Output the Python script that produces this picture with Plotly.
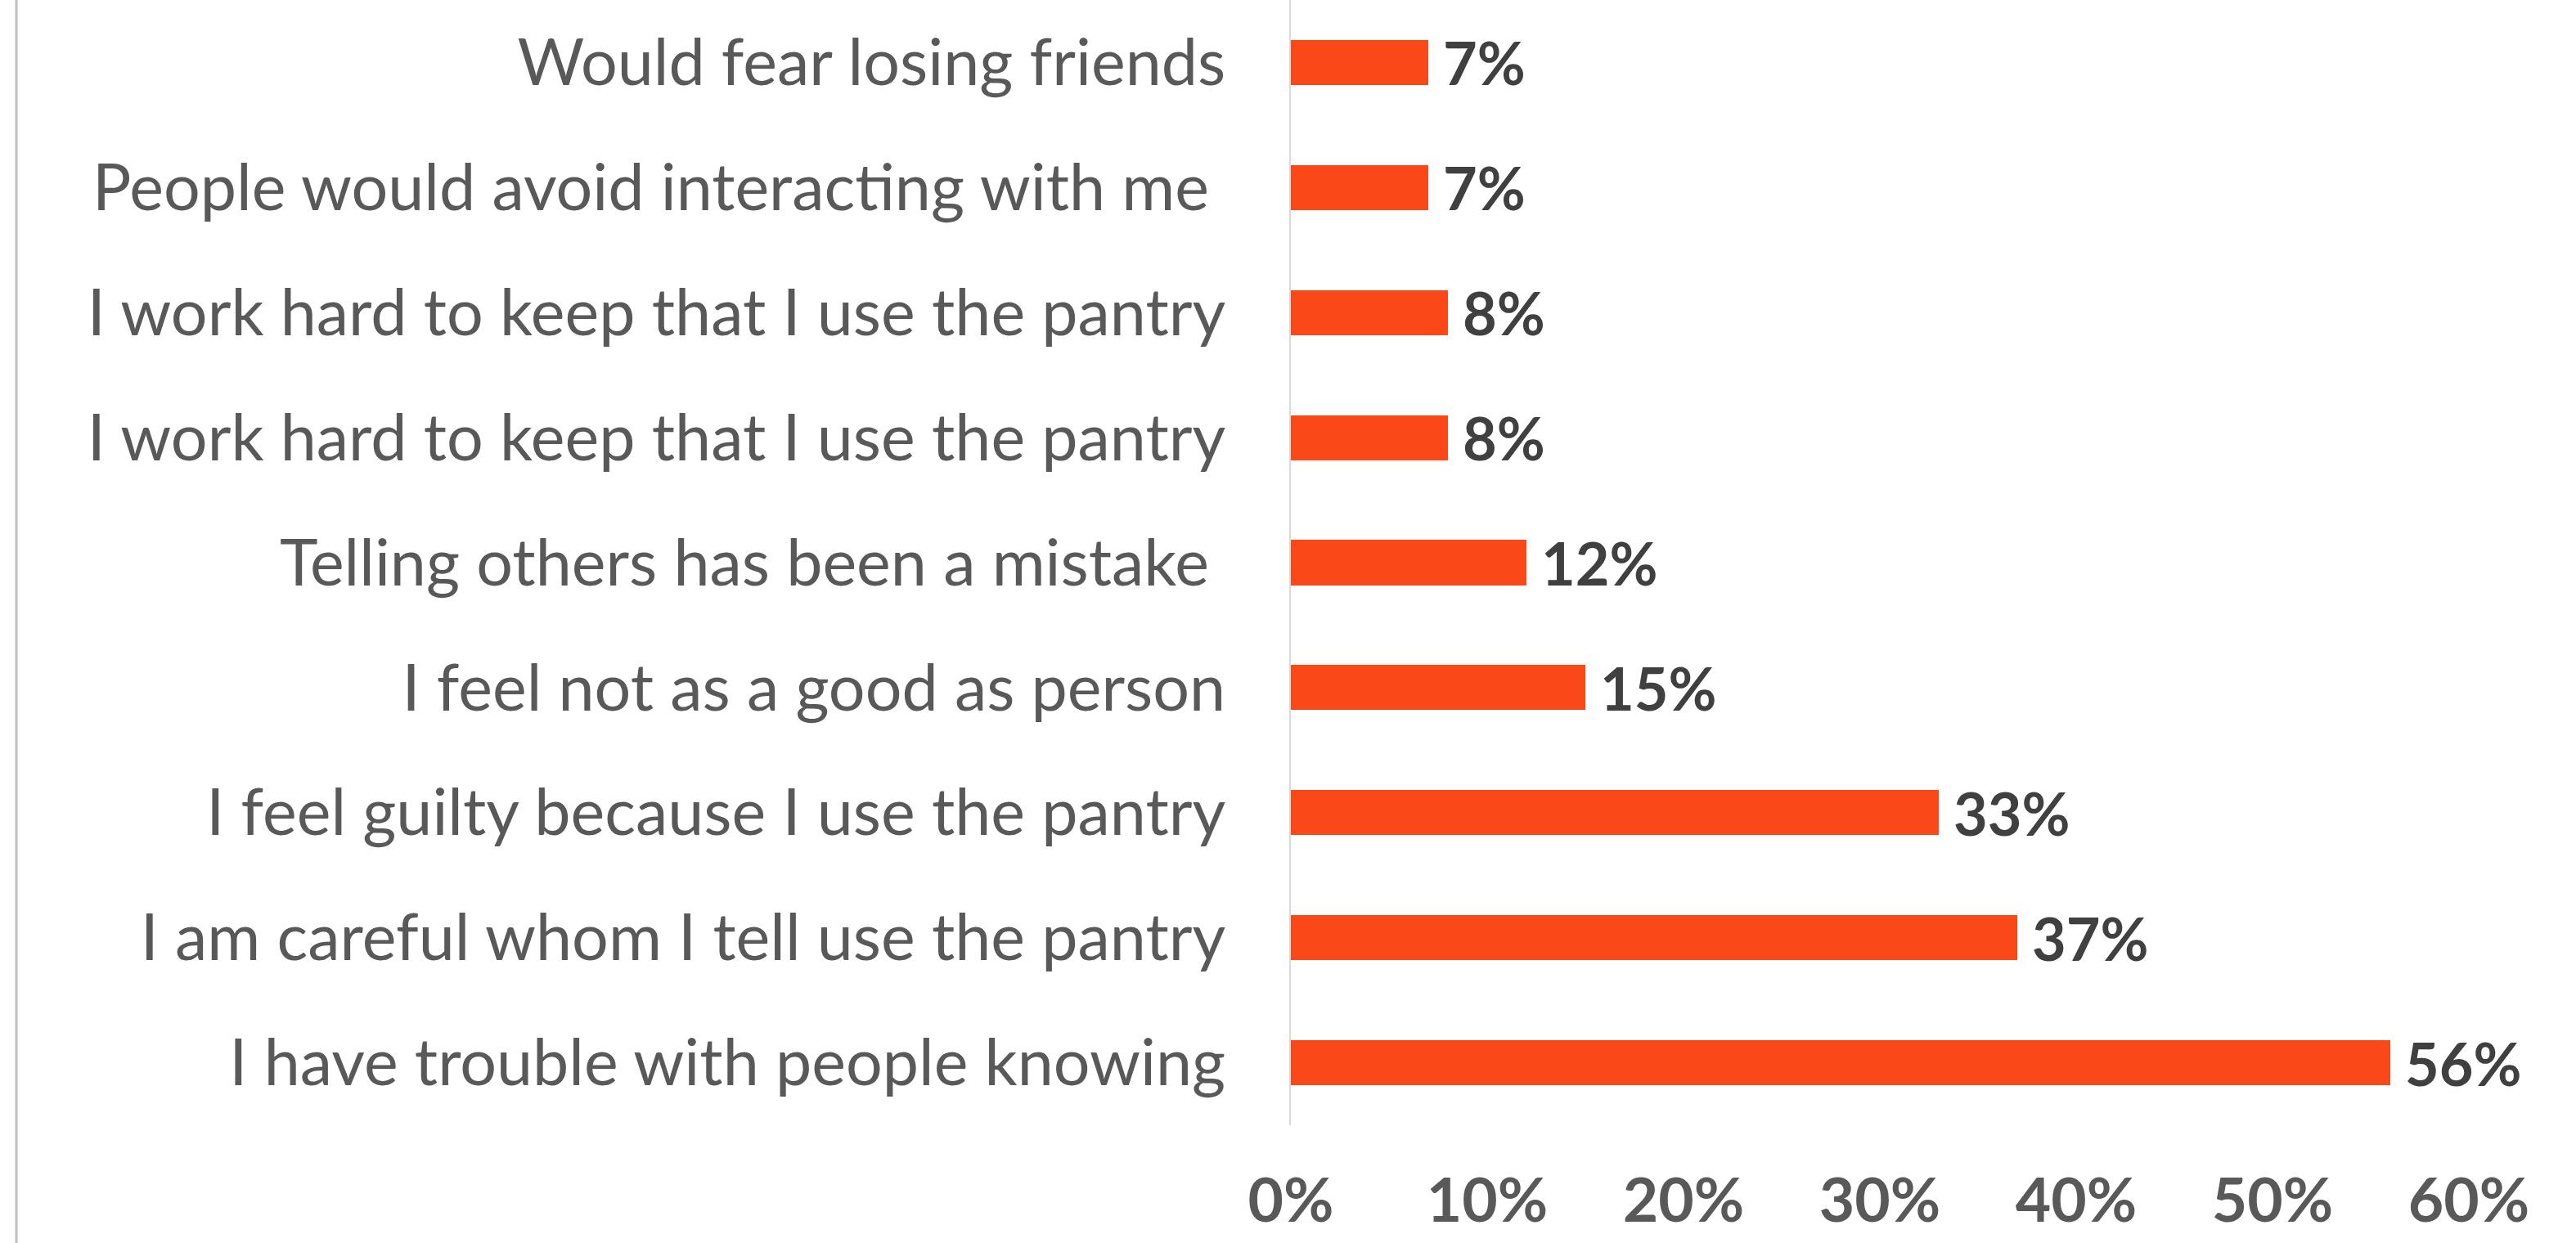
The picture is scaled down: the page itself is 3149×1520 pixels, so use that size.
import plotly.graph_objects as go

# Survey responses, listed top to bottom
statements = [
    "Would fear losing friends",
    "People would avoid interacting with me ",
    "I work hard to keep that I use the pantry",
    "I work hard to keep that I use the pantry",
    "Telling others has been a mistake ",
    "I feel not as a good as person",
    "I feel guilty because I use the pantry",
    "I am careful whom I tell use the pantry",
    "I have trouble with people knowing",
]
shares = [0.07, 0.07, 0.08, 0.08, 0.12, 0.15, 0.33, 0.37, 0.56]
x_ticks = [0, 0.1, 0.2, 0.3, 0.4, 0.5, 0.6]
x_tick_labels = ["0%", "10%", "20%", "30%", "40%", "50%", "60%"]

rows = list(range(len(statements)))

W, H = 3149, 1520
ML, MR, MT, MB = 1578, 131, 0, 144

fig = go.Figure()
fig.add_trace(go.Bar(
    x=shares,
    y=rows,
    orientation="h",
    width=0.36,
    marker=dict(color="#FB4818", line=dict(width=0)),
    hoverinfo="skip",
))

for r, v in zip(rows, shares):
    fig.add_annotation(
        x=v, y=r, xref="x", yref="y",
        text=f"{round(v * 100)}%",
        showarrow=False, xanchor="left", yanchor="middle",
        xshift=16,
        font=dict(family="Lato", size=72, color="#404040", weight="bold"),
    )

# thin frame line at the far left of the chart area
fig.add_shape(
    type="line", xref="paper", yref="paper",
    x0=(20 - ML) / (W - ML - MR), x1=(20 - ML) / (W - ML - MR),
    y0=-MB / (H - MT - MB) - 0.05, y1=1.05,
    line=dict(color="#BFBFBF", width=3),
)

fig.update_layout(
    width=W, height=H,
    margin=dict(l=ML, r=MR, t=MT, b=MB, pad=0),
    plot_bgcolor="white", paper_bgcolor="white",
    showlegend=False,
    bargap=0,
    xaxis=dict(
        range=[0, 0.6],
        tickvals=x_ticks, ticktext=x_tick_labels,
        showgrid=False, zeroline=False, showline=False,
        ticks="", ticklabelstandoff=42, automargin=False,
        tickfont=dict(family="Lato", size=75, color="#595959", weight="bold"),
        fixedrange=True,
    ),
    yaxis=dict(
        range=[len(statements) - 0.5, -0.5],
        tickvals=rows, ticktext=statements,
        showgrid=False, zeroline=False,
        showline=True, linecolor="#D9D9D9", linewidth=2,
        ticks="", ticklabelstandoff=62, automargin=False,
        tickfont=dict(family="Lato", size=79, color="#595959"),
        fixedrange=True,
    ),
)

fig.write_html("out.html")
